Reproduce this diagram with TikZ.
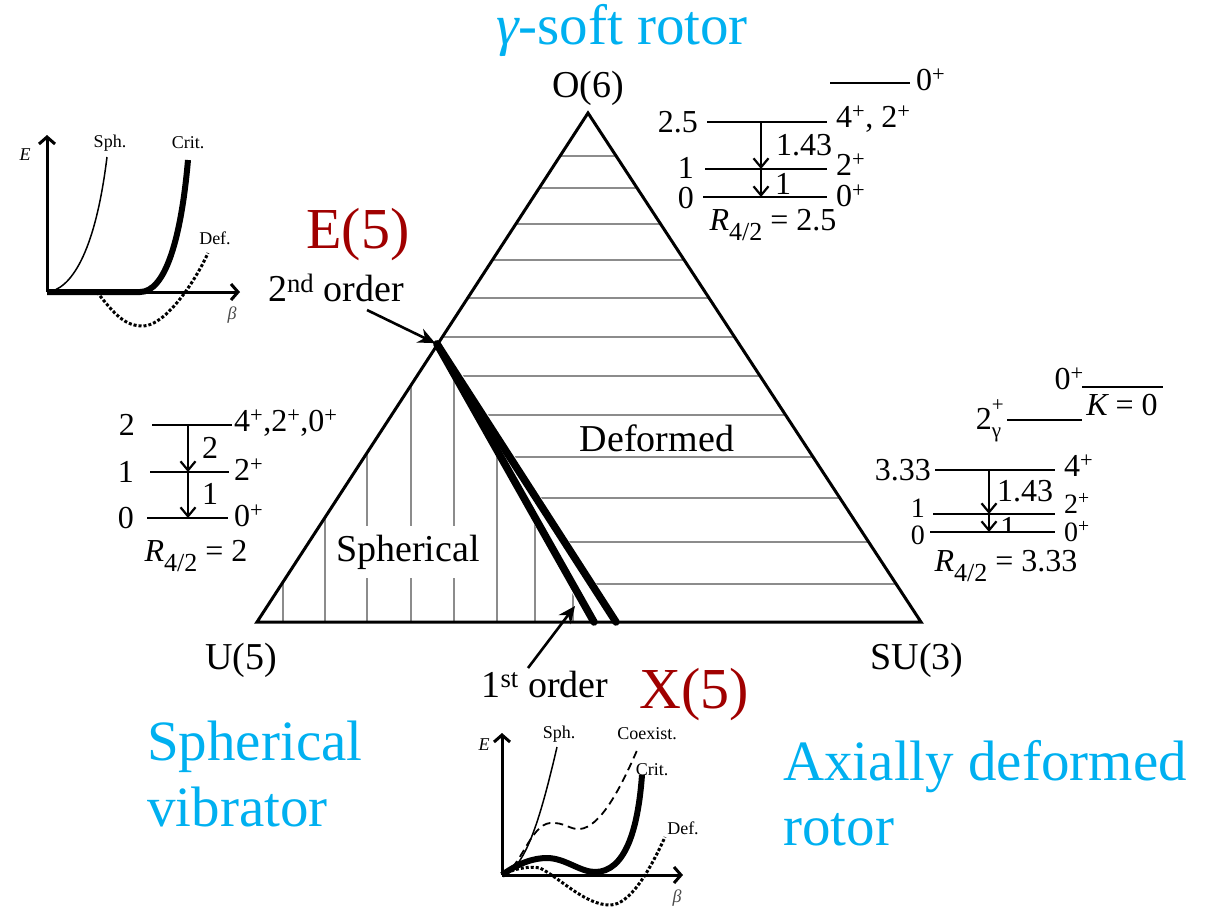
\documentclass[tikz,border=0pt]{standalone}
\usepackage{fontspec}
\setmainfont{Liberation Serif}
\usetikzlibrary{arrows.meta}
\definecolor{cyantext}{RGB}{0,176,240}
\definecolor{darkredtext}{RGB}{160,0,0}
\definecolor{hatchgray}{RGB}{140,140,140}
\newcommand\fsz[1]{\fontsize{#1}{#1}\selectfont}
\newcommand\Rfour{{\itshape R}\raisebox{-0.32em}{\fsz{26}4/2}}
\tikzset{
  cyanlabel/.style={text=cyantext, font=\fsz{57}, inner sep=0},
  redlabel/.style={text=darkredtext, font=\fsz{58}, inner sep=0},
  midlabel/.style={font=\fsz{38}, inner sep=0},
  lvltext/.style={font=\fsz{32}, inner sep=0},
  tighttext/.style={font=\fsz{28}, inner sep=0},
  smalltext/.style={font=\fsz{18}, inner sep=0},
  hatchline/.style={draw=hatchgray, line width=1.4},
  lvl/.style={line width=2.7},
  trans/.style={line width=2, -{Straight Barb[length=9pt,width=15pt,line width=2.2pt]}},
  ptr/.style={line width=2.6, -{Stealth[length=17pt,width=15pt]}},
  axis/.style={line width=3, -{Straight Barb[length=7pt,width=16pt,line width=3pt]}},
}
\begin{document}
\begin{tikzpicture}[x=1pt,y=-1pt,line join=miter]
\useasboundingbox (0,0) rectangle (1218,906);

% ---------- triangle ----------
\coordinate (O6) at (588,113);
\coordinate (U5) at (257,622);
\coordinate (SU3) at (921,622);
\coordinate (E5) at (437,344);
\coordinate (Xa) at (594,622);
\coordinate (Xb) at (616,622);

\begin{scope}
  \clip (588,113) -- (437,344) -- (443,344) -- (621,622) -- (921,622) -- cycle;
  \foreach \yy in {156,188,224,260,298,337,376,415,457,498,542,584}
    \draw[hatchline] (400,\yy) -- (950,\yy);
\end{scope}
\begin{scope}
  \clip (257,622) -- (436,346) -- (588,622) -- cycle;
  \foreach \xx in {283,325,367,411,454,497,535,573}
    \draw[hatchline] (\xx,330) -- (\xx,622);
\end{scope}

\node[midlabel, fill=white, minimum height=52, inner xsep=3] (sph) at (408,552) {Spherical};
\node[midlabel] (def) at (657,438) {Deformed};

\draw[line width=3] (O6) -- (U5) -- (SU3) -- cycle;
\draw[line width=7.5, line cap=round] (E5) -- (Xa);
\draw[line width=7.5, line cap=round] (E5) -- (Xb);

\node[midlabel] (lO6) at (588,88) {O(6)};
\node[midlabel] (lU5) at (241,660) {U(5)};
\node[midlabel] (lSU3) at (917,660) {SU(3)};

\node[midlabel] (second) at (336,288) {2\textsuperscript{nd} order};
\coordinate (t2) at (367,310);
\draw[ptr, shorten >=2pt] (t2) -- (E5);
\node[midlabel] (first) at (545,684) {1\textsuperscript{st} order};
\coordinate (t1) at (528,668);
\coordinate (h1) at (575,606);
\draw[ptr] (t1) -- (h1);

% ---------- big labels ----------
\node[cyanlabel] (gsoft) at (622,30) {{\itshape γ}-soft rotor};
\node[cyanlabel, anchor=base west] (sv1) at (147,760) {Spherical};
\node[cyanlabel, anchor=base west] (sv2) at (147,826) {vibrator};
\node[cyanlabel, anchor=base west] (ad1) at (783,780) {Axially deformed};
\node[cyanlabel, anchor=base west] (ad2) at (783,845) {rotor};
\node[redlabel] (e5l) at (358,235) {E(5)};
\node[redlabel] (x5l) at (694,695) {X(5)};

% ---------- U(5) level scheme ----------
\coordinate (a2l) at (152,425); \coordinate (a2r) at (232,425);
\coordinate (a1l) at (150,472); \coordinate (a1r) at (229,472);
\coordinate (a0l) at (147,518); \coordinate (a0r) at (228,518);
\draw[lvl] (a2l) -- (a2r); \draw[lvl] (a1l) -- (a1r); \draw[lvl] (a0l) -- (a0r);
\node[lvltext, anchor=east] at (135,425) {2};
\node[lvltext, anchor=east] at (134,472) {1};
\node[lvltext, anchor=east] at (134,518) {0};
\node[lvltext, anchor=west] at (234,423) {4\textsuperscript{+},2\textsuperscript{+},0\textsuperscript{+}};
\node[lvltext, anchor=west] at (234,470) {2\textsuperscript{+}};
\node[lvltext, anchor=west] at (234,516) {0\textsuperscript{+}};
\coordinate (ua2) at (188,425); \coordinate (ua1) at (188,472); \coordinate (ua0) at (188,518);
\draw[trans] (ua2) -- (ua1);
\draw[trans] (ua1) -- (ua0);
\node[lvltext] at (210,448) {2};
\node[lvltext] at (210,494) {1};
\node[lvltext] at (196,556) {\Rfour~=~2};

% ---------- O(6) level scheme ----------
\coordinate (o3l) at (830,83); \coordinate (o3r) at (910,83);
\coordinate (o2l) at (707,122); \coordinate (o2r) at (827,122);
\coordinate (o1l) at (705,169); \coordinate (o1r) at (827,169);
\coordinate (o0l) at (703,197); \coordinate (o0r) at (827,197);
\draw[lvl] (o3l) -- (o3r); \draw[lvl] (o2l) -- (o2r);
\draw[lvl] (o1l) -- (o1r); \draw[lvl] (o0l) -- (o0r);
\node[lvltext, anchor=west] at (916,80) {0\textsuperscript{+}};
\node[lvltext, anchor=east] at (698,122) {2.5};
\node[lvltext, anchor=east] at (694,168) {1};
\node[lvltext, anchor=east] at (694,198) {0};
\node[lvltext, anchor=west] at (836,119) {4\textsuperscript{+}, 2\textsuperscript{+}};
\node[lvltext, anchor=west] at (836,165) {2\textsuperscript{+}};
\node[lvltext, anchor=west] at (836,196) {0\textsuperscript{+}};
\coordinate (oa2) at (761,122); \coordinate (oa1) at (761,169); \coordinate (oa0) at (761,197);
\draw[trans] (oa2) -- (oa1);
\draw[trans] (oa1) -- (oa0);
\node[lvltext] at (804,145) {1.43};
\node[lvltext] at (783,184) {1};
\node[lvltext] at (773,225) {\Rfour~=~2.5};

% ---------- SU(3) level scheme ----------
\coordinate (kl) at (1082,387); \coordinate (kr) at (1163,387);
\coordinate (gl) at (1007,420); \coordinate (gr) at (1082,420);
\coordinate (s4l) at (935,470); \coordinate (s4r) at (1055,470);
\coordinate (s2l) at (933,514); \coordinate (s2r) at (1055,514);
\coordinate (s0l) at (930,532); \coordinate (s0r) at (1055,532);
\draw[lvl] (kl) -- (kr); \draw[lvl] (gl) -- (gr);
\draw[lvl] (s4l) -- (s4r); \draw[lvl] (s2l) -- (s2r); \draw[lvl] (s0l) -- (s0r);
\node[lvltext, anchor=south east] at (1084,390) {0\textsuperscript{+}};
\node[lvltext] at (1122,405) {{\itshape K} = 0};
\node[lvltext, anchor=east] (g2) at (1003,421) {2\makebox[0pt][l]{\raisebox{0.55em}{\fsz{21}+}}\raisebox{-0.28em}{\fsz{21}γ}\kern0.05em};
\node[lvltext, anchor=east] at (931,470) {3.33};
\node[tighttext, anchor=east] at (925,508) {1};
\node[tighttext, anchor=east] at (925,535) {0};
\node[lvltext, anchor=west] at (1064,466) {4\textsuperscript{+}};
\node[tighttext, anchor=west] at (1064,503) {2\textsuperscript{+}};
\node[tighttext, anchor=west] at (1064,532) {0\textsuperscript{+}};
\coordinate (sa4) at (989,470); \coordinate (sa2) at (989,514); \coordinate (sa0) at (989,532);
\draw[trans] (sa4) -- (sa2);
\draw[trans] (sa2) -- (sa0);
\node[lvltext] at (1025,491) {1.43};
\begin{scope}
  \clip (995,516) rectangle (1025,530);
  \node[lvltext] at (1008,528) {1};
\end{scope}
\node[lvltext] at (1006,566) {\Rfour~=~3.33};

% ---------- E(5) inset ----------
\coordinate (p0) at (47,292);
\coordinate (pyt) at (47,135);
\coordinate (pxt) at (240,292);
\draw[axis] (p0) -- (pyt);
\draw[axis] (p0) -- (pxt);
\node[smalltext, font=\fsz{18}\itshape] at (25,155) {E};
\node[smalltext, font=\fsz{18}\itshape, text=black!70] at (232,315) {β};
\node[smalltext] at (110,143) {Sph.};
\node[smalltext] at (188,143) {Crit.};
\node[smalltext] at (215,238) {Def.};
\draw[line width=1.5] (p0) .. controls (70,290) and (95,255) .. (107,157);
\draw[line width=6] (p0) -- (140,292) .. controls (165,292) and (181,240) .. (188,160);
\draw[line width=3, dotted] (97,292) .. controls (115,315) and (125,326) .. (143,326)
   .. controls (165,326) and (195,282) .. (208,253);

% ---------- X(5) inset ----------
\coordinate (q0) at (502,875);
\coordinate (qyt) at (502,733);
\coordinate (qxt) at (683,875);
\draw[axis] (q0) -- (qyt);
\draw[axis] (q0) -- (qxt);
\node[smalltext, font=\fsz{18}\itshape] at (484,745) {E};
\node[smalltext, font=\fsz{18}\itshape, text=black!70] at (677,898) {β};
\node[smalltext] at (559,734) {Sph.};
\node[smalltext] at (647,734) {Coexist.};
\node[smalltext] at (652,770) {Crit.};
\node[smalltext] at (683,828) {Def.};
\draw[line width=1.5] (q0) .. controls (525,870) and (540,820) .. (557,747);
\draw[line width=1.8, dash pattern=on 8pt off 5pt] (q0) .. controls (520,870) and (530,825) .. (550,823)
   .. controls (565,822) and (570,830) .. (580,829)
   .. controls (600,827) and (620,790) .. (638,748);
\draw[line width=6] (q0) .. controls (520,862) and (535,858) .. (547,858)
   .. controls (565,858) and (580,872) .. (595,872)
   .. controls (625,872) and (638,830) .. (642,775);
\draw[line width=3, dotted] (q0) .. controls (515,868) and (530,866) .. (540,868)
   .. controls (560,878) and (585,905) .. (610,905)
   .. controls (630,905) and (650,870) .. (665,837);
\end{tikzpicture}
\end{document}
